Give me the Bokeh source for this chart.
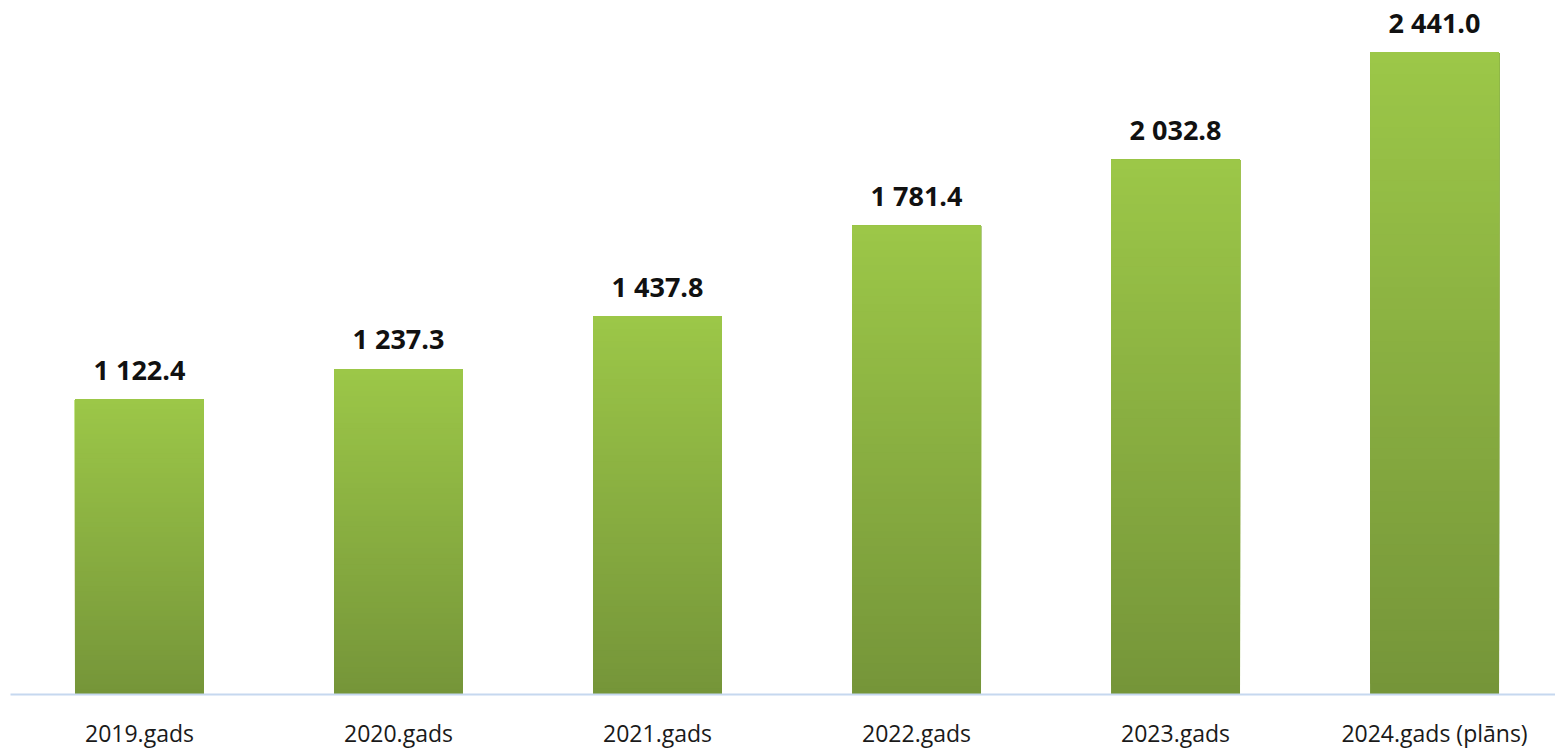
from bokeh.plotting import figure
from bokeh.models import Range1d, FixedTicker, ColumnDataSource
from bokeh.core.properties import value
from bokeh.embed import file_html
from bokeh.resources import INLINE

categories = ["2019.gads", "2020.gads", "2021.gads", "2022.gads", "2023.gads", "2024.gads (plāns)"]
values = [1122.4, 1237.3, 1437.8, 1781.4, 2032.8, 2441.0]
labels = ["1 122.4", "1 237.3", "1 437.8", "1 781.4", "2 032.8", "2 441.0"]

top_rgb = (0x9C, 0xC7, 0x48)
bot_rgb = (0x75, 0x95, 0x39)
N = 60

xs = list(range(len(categories)))

p = figure(width=1555, height=751, output_backend="svg", toolbar_location=None,
           x_range=Range1d(-0.498, 5.467), y_range=Range1d(0, 2600),
           min_border_left=10, min_border_right=0, min_border_top=10, min_border_bottom=54)
p.outline_line_color = None
p.background_fill_color = "white"
p.border_fill_color = "white"
p.xgrid.visible = False
p.ygrid.visible = False
p.yaxis.visible = False

# gradient bars: overlapping slices drawn bottom to top (no seams)
left, right, bottom, top, colors = [], [], [], [], []
bw = 0.249
for x, v in zip(xs, values):
    for i in range(N):
        t = (i + 0.5) / N
        c = tuple(int(round(b + (a - b) * t)) for a, b in zip(top_rgb, bot_rgb))
        left.append(x - bw)
        right.append(x + bw)
        bottom.append(v * i / N)
        top.append(v)
        colors.append("#%02x%02x%02x" % c)
p.quad(left=left, right=right, bottom=bottom, top=top, fill_color=colors, line_color=None)

src = ColumnDataSource(dict(x=xs, y=values, t=labels))
p.text(x="x", y="y", text="t", source=src, text_align="center", text_baseline="alphabetic",
       y_offset=-30, text_font=value("Open Sans"), text_font_style="bold",
       text_font_size="27px", text_color="#111111")

ax = p.xaxis[0]
ax.ticker = FixedTicker(ticks=xs)
ax.major_label_overrides = {i: c for i, c in enumerate(categories)}
ax.major_tick_line_color = None
ax.minor_tick_line_color = None
ax.axis_line_color = "#c6d8ef"
ax.axis_line_width = 2
ax.major_label_standoff = 16
ax.major_label_text_font = "Open Sans"
ax.major_label_text_font_size = "23px"
ax.major_label_text_color = "#1a1a1a"

open("out.html", "w").write(file_html(p, INLINE))
